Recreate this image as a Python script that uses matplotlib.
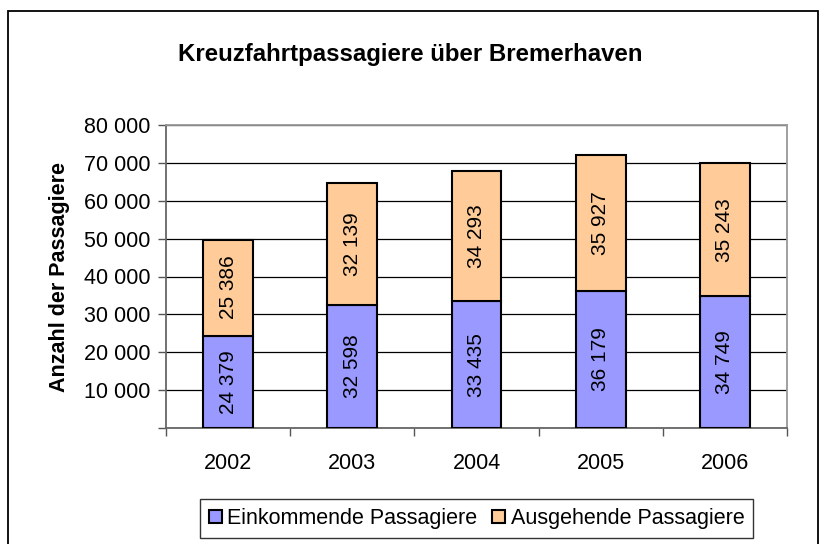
import matplotlib
matplotlib.use("Agg")
import matplotlib.pyplot as plt
from matplotlib.patches import Rectangle
from matplotlib.ticker import FuncFormatter, MultipleLocator
import numpy as np

plt.rcParams['font.family'] = ['Liberation Sans', 'DejaVu Sans']

years = ["2002", "2003", "2004", "2005", "2006"]
incoming = [24379, 32598, 33435, 36179, 34749]
outgoing = [25386, 32139, 34293, 35927, 35243]
series_names = ["Einkommende Passagiere", "Ausgehende Passagiere"]
title = "Kreuzfahrtpassagiere über Bremerhaven"
ylabel = "Anzahl der Passagiere"

W, H = 820, 544
fig = plt.figure(figsize=(W / 100, H / 100), dpi=100)
fig.patch.set_facecolor("white")

# outer chart border
fig.patches.append(Rectangle((8 / W, -0.05), (818 - 8) / W, 1 - 11 / H + 0.05,
                             transform=fig.transFigure, fill=False,
                             edgecolor="black", lw=1.3))

left, right, top, bottom = 166, 787, 125, 428
ax = fig.add_axes([left / W, 1 - bottom / H, (right - left) / W, (bottom - top) / H])

x = np.arange(len(years))
w = 0.4
c_in = "#9999FF"
c_out = "#FFCC99"
b1 = ax.bar(x, incoming, w, color=c_in, edgecolor="black", lw=1.5, zorder=3,
            label=series_names[0])
b2 = ax.bar(x, outgoing, w, bottom=incoming, color=c_out, edgecolor="black", lw=1.5,
            zorder=3, label=series_names[1])

def fmt(v):
    return f"{v:,}".replace(",", " ")

for i in range(len(years)):
    ax.text(x[i], incoming[i] / 2, fmt(incoming[i]), rotation=90, ha="center",
            va="center", fontsize=15, zorder=4)
    ax.text(x[i], incoming[i] + outgoing[i] / 2, fmt(outgoing[i]), rotation=90,
            ha="center", va="center", fontsize=15, zorder=4)

ax.set_xlim(-0.5, len(years) - 0.5)
ax.set_ylim(0, 80000)
ax.yaxis.set_major_locator(MultipleLocator(10000))
ax.yaxis.set_major_formatter(FuncFormatter(lambda v, p: "" if v == 0 else fmt(int(v))))
ax.grid(axis="y", color="black", lw=0.9, zorder=0)
ax.set_axisbelow(True)

ax.set_xticks(x)
ax.set_xticklabels(years)
ax.set_xticks(np.arange(-0.5, len(years)), minor=True)
ax.tick_params(axis="x", which="major", length=0, pad=18, labelsize=15.5)
ax.tick_params(axis="x", which="minor", length=6, width=1, color="#555555")
ax.tick_params(axis="y", length=6, width=1, color="#555555", labelsize=15.5, pad=5)

for s in ["top", "right"]:
    ax.spines[s].set_color("#999999")
    ax.spines[s].set_linewidth(1.3)
for s in ["left", "bottom"]:
    ax.spines[s].set_color("#666666")
    ax.spines[s].set_linewidth(1.3)

fig.text(410 / W, 1 - 55 / H, title, ha="center", va="center",
         fontsize=17.3, fontweight="bold")
fig.text(60 / W, 1 - 277 / H, ylabel, rotation=90, ha="center", va="center",
         fontsize=15.5, fontweight="bold")

leg = fig.legend(handles=[b1, b2], labels=series_names, loc="center",
                 bbox_to_anchor=(476.5 / W, 1 - 518.5 / H), ncol=2, fontsize=15.5,
                 frameon=True, fancybox=False, edgecolor="black",
                 handlelength=0.6, handleheight=0.6, handletextpad=0.25,
                 columnspacing=0.7, borderpad=0.4, borderaxespad=0)
leg.get_frame().set_linewidth(1.0)

fig.savefig("out.png", dpi=100)
